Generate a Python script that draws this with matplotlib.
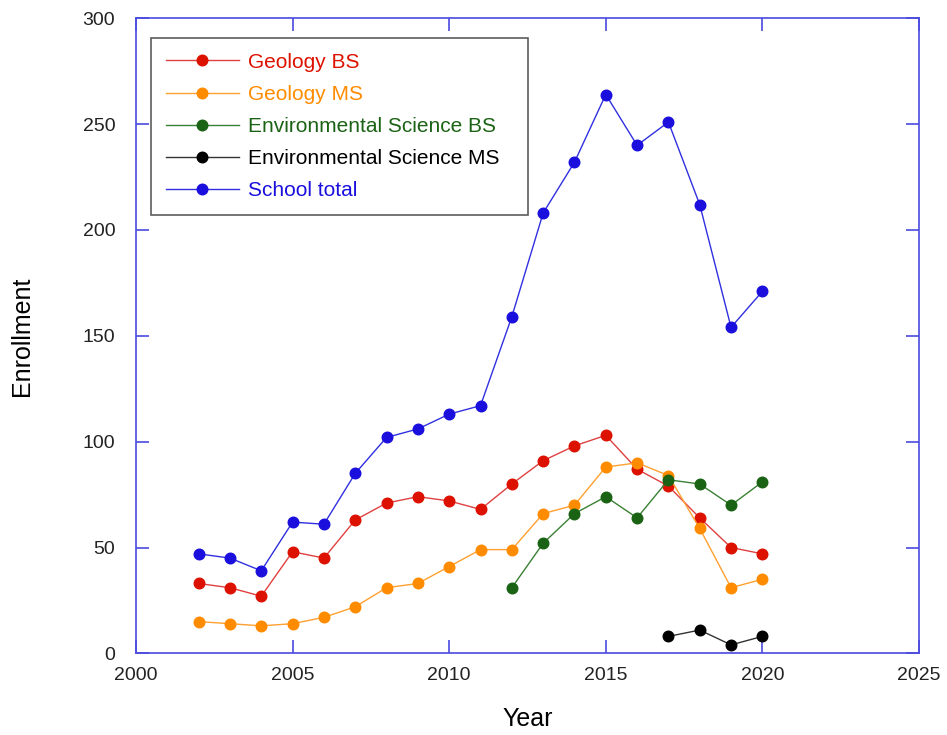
import matplotlib
matplotlib.use("Agg")
import matplotlib.pyplot as plt

plt.rcParams['font.family'] = ['Liberation Sans', 'DejaVu Sans']

years = list(range(2002, 2021))
geo_bs = [33, 31, 27, 48, 45, 63, 71, 74, 72, 68, 80, 91, 98, 103, 87, 79, 64, 50, 47]
geo_ms = [15, 14, 13, 14, 17, 22, 31, 33, 41, 49, 49, 66, 70, 88, 90, 84, 59, 31, 35]
env_bs_years = list(range(2012, 2021))
env_bs = [31, 52, 66, 74, 64, 82, 80, 70, 81]
env_ms_years = [2017, 2018, 2019, 2020]
env_ms = [8, 11, 4, 8]
school = [47, 45, 39, 62, 61, 85, 102, 106, 113, 117, 159, 208, 232, 264, 240, 251, 212, 154, 171]

red = '#dd1100'
orange = '#ff8c00'
green = '#1b6314'
black = '#000000'
blue = '#1a0fdd'
axcol = '#4a4ae0'

fig = plt.figure(figsize=(9.47, 7.35), dpi=100)
ax = fig.add_axes([0.1436, 0.1111, 0.8268, 0.8640])

ms = 7.6
ax.plot(years, geo_bs, '-o', color='#e04040', mfc=red, mec=red, lw=1, ms=ms, label='Geology BS')
ax.plot(years, geo_ms, '-o', color='#ffa030', mfc=orange, mec=orange, lw=1, ms=ms, label='Geology MS')
ax.plot(env_bs_years, env_bs, '-o', color='#3a8034', mfc=green, mec=green, lw=1, ms=ms, label='Environmental Science BS')
ax.plot(env_ms_years, env_ms, '-o', color='#333333', mfc=black, mec=black, lw=1, ms=ms, label='Environmental Science MS')
ax.plot(years, school, '-o', color='#3030e0', mfc=blue, mec=blue, lw=1, ms=ms, label='School total')

ax.set_xlim(2000, 2025)
ax.set_ylim(0, 300)
ax.set_xticks(range(2000, 2026, 5))
ax.set_yticks(range(0, 301, 50))

for s in ax.spines.values():
    s.set_color(axcol)
    s.set_linewidth(1.2)
ax.tick_params(direction='in', length=9.5, width=1.2, color=axcol, labelsize=14,
               labelcolor='#222222', top=True, right=True)
ax.tick_params(axis='x', pad=10)
ax.tick_params(axis='y', pad=15)

ax.set_xlabel('Year', fontsize=18)
ax.set_ylabel('Enrollment', fontsize=18)
ax.xaxis.set_label_coords(0.5, -0.085)
ax.yaxis.set_label_coords(-0.13, 0.5)

leg = ax.legend(loc='upper left', bbox_to_anchor=(0.0192, 0.5, 0.481, 0.4694), mode='expand',
                borderaxespad=0, fontsize=15, frameon=True, fancybox=False, handlelength=3.5,
                handletextpad=0.43, labelspacing=0.63, borderpad=0.72)
leg.get_frame().set_edgecolor('#333333')
leg.get_frame().set_linewidth(1.2)
for txt, c in zip(leg.get_texts(), [red, orange, green, black, blue]):
    txt.set_color(c)

fig.savefig('out.png', dpi=100)
